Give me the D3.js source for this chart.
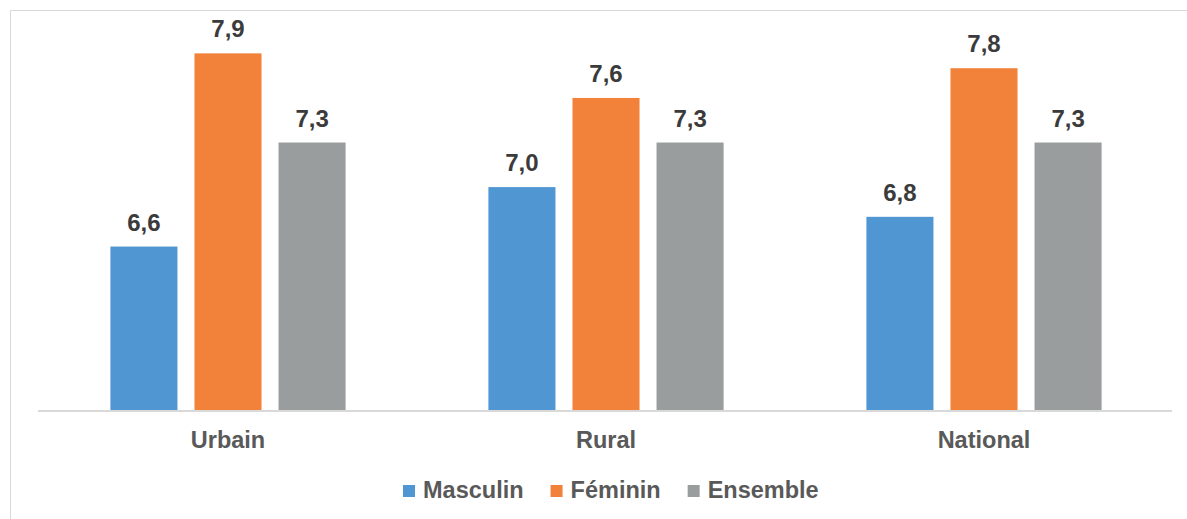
<!DOCTYPE html>
<html>
<head>
  <meta charset="utf-8">
  <title>Masculin / Féminin / Ensemble</title>
  <style>
    body { margin: 0; background: #fff; font-family: "Liberation Sans", Arial, sans-serif; }
    svg { display: block; }
  </style>
</head>
<body>
  <svg width="1187" height="519"></svg>
  <script src="https://d3js.org/d3.v7.min.js"></script>
  <script>
    const categories = ["Urbain", "Rural", "National"];
    const seriesNames = ["Masculin", "Féminin", "Ensemble"];
    const masculin = [6.6, 7.0, 6.8];
    const feminin = [7.9, 7.6, 7.8];
    const ensemble = [7.3, 7.3, 7.3];
    const colors = ["#5096d2", "#f2823a", "#9a9d9e"];

    const series = [masculin, feminin, ensemble];
    const svg = d3.select("svg");

    // cadre gris
    svg.append("rect")
      .attr("x", 10.5).attr("y", 10.5)
      .attr("width", 1200).attr("height", 540)
      .attr("fill", "none").attr("stroke", "#d9d9d9");

    const x0 = d3.scaleBand().domain(categories).range([39, 1173]);
    const x1 = d3.scaleBand().domain(seriesNames)
      .range([71.4, 306.6]).paddingInner(0.2024);
    const y = d3.scaleLinear().domain([5.5, 8]).range([410, 38.5]);

    const fmt = v => d3.format(".1f")(v).replace(".", ",");

    const groups = svg.append("g").selectAll("g")
      .data(categories)
      .enter().append("g")
      .attr("transform", c => `translate(${x0(c)},0)`);

    groups.selectAll("rect")
      .data((c, i) => seriesNames.map((s, j) => ({ s, j, v: series[j][i] })))
      .enter().append("rect")
      .attr("x", d => x1(d.s))
      .attr("y", d => y(d.v))
      .attr("width", x1.bandwidth())
      .attr("height", d => y.range()[0] - y(d.v))
      .attr("fill", d => colors[d.j]);

    groups.selectAll("text.val")
      .data((c, i) => seriesNames.map((s, j) => ({ s, j, v: series[j][i] })))
      .enter().append("text")
      .attr("class", "val")
      .attr("x", d => x1(d.s) + x1.bandwidth() / 2)
      .attr("y", d => y(d.v) - 16)
      .attr("text-anchor", "middle")
      .attr("font-size", 24)
      .attr("font-weight", "bold")
      .attr("fill", "#3b3b3b")
      .text(d => fmt(d.v));

    // axe horizontal
    svg.append("line")
      .attr("x1", 38).attr("x2", 1172)
      .attr("y1", 411).attr("y2", 411)
      .attr("stroke", "#d9d9d9").attr("stroke-width", 2);

    svg.append("g").selectAll("text")
      .data(categories)
      .enter().append("text")
      .attr("x", c => x0(c) + x0.bandwidth() / 2)
      .attr("y", 448)
      .attr("text-anchor", "middle")
      .attr("font-size", 23.5)
      .attr("font-weight", "bold")
      .attr("fill", "#595959")
      .text(c => c);

    // légende
    const legend = svg.append("g").attr("transform", "translate(403,498)");
    let lx = 0;
    seriesNames.forEach((s, j) => {
      const it = legend.append("g").attr("transform", `translate(${lx},0)`);
      it.append("rect").attr("x", 0).attr("y", -13).attr("width", 12).attr("height", 12)
        .attr("fill", colors[j]);
      const t = it.append("text").attr("x", 20).attr("y", 0)
        .attr("font-size", 23.5).attr("font-weight", "bold").attr("fill", "#595959")
        .text(s);
      lx += 20 + t.node().getComputedTextLength() + 27;
    });
  </script>
</body>
</html>
